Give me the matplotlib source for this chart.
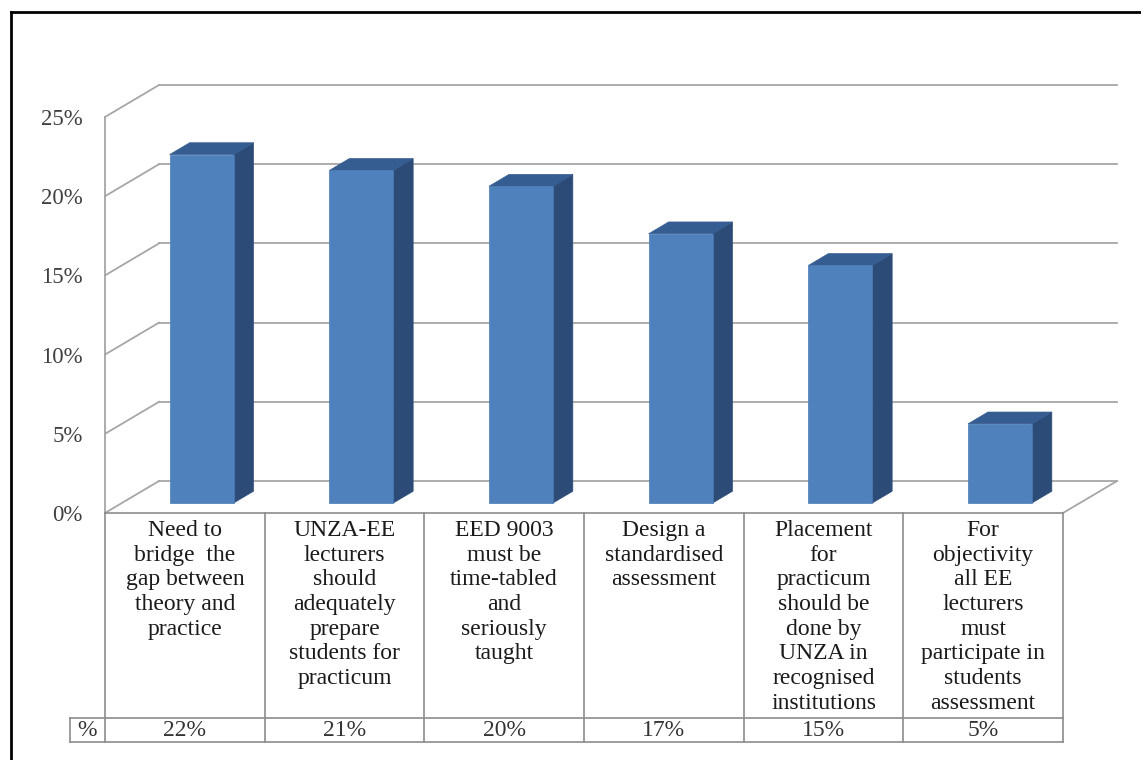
import matplotlib
matplotlib.use("Agg")
import matplotlib.pyplot as plt
from matplotlib.patches import Polygon
from matplotlib.lines import Line2D
from matplotlib.transforms import blended_transform_factory

# Datos del gráfico
categorias = [
    "Need to\nbridge  the\ngap between\ntheory and\npractice",
    "UNZA-EE\nlecturers\nshould\nadequately\nprepare\nstudents for\npracticum",
    "EED 9003\nmust be\ntime-tabled\nand\nseriously\ntaught",
    "Design a\nstandardised\nassessment",
    "Placement\nfor\npracticum\nshould be\ndone by\nUNZA in\nrecognised\ninstitutions",
    "For\nobjectivity\nall EE\nlecturers\nmust\nparticipate in\nstudents\nassessment",
]
valores = [22, 21, 20, 17, 15, 5]
etiquetas_valor = ["22%", "21%", "20%", "17%", "15%", "5%"]
yticks = [0, 5, 10, 15, 20, 25]
ytick_labels = ["0%", "5%", "10%", "15%", "20%", "25%"]

W, H = 1141, 760
fuente = "Liberation Serif"
gris = "#a6a6a6"
gris_tabla = "#8c8c8c"

fig = plt.figure(figsize=(W / 100, H / 100), dpi=100)
fig.patch.set_facecolor("white")

# ejes: plano frontal del gráfico 3D
ax = fig.add_axes([105 / W, (H - 513) / H, (1063 - 105) / W, (513 - 117) / H])
n = len(valores)
ax.set_xlim(0, n)
ax.set_ylim(0, 25)
for s in ax.spines.values():
    s.set_visible(False)
ax.set_xticks([])
ax.set_yticks(yticks)
ax.set_yticklabels(ytick_labels, fontsize=16.5, family=fuente, color="#404040")
ax.tick_params(axis="y", length=0, pad=16)
ax.patch.set_alpha(0)

# profundidad (en unidades de datos)
dx = 54 / ((1063 - 105) / n)
dy = 32 / ((513 - 117) / 25)

# pared izquierda, pared del fondo y suelo
ax.plot([0, 0], [0, 25], color=gris, lw=1.3, clip_on=False, zorder=1)
for v in yticks:
    ax.plot([0, dx], [v, v + dy], color=gris, lw=1.3, clip_on=False, zorder=1)
    ax.plot([dx, n + dx], [v + dy, v + dy], color=gris, lw=1.3, clip_on=False, zorder=1)
ax.plot([n, n + dx], [0, dy], color=gris, lw=1.3, clip_on=False, zorder=1)

# barras 3D
ancho = 0.4
p0, p1 = 0.31, 0.68
for i, v in enumerate(valores):
    x0 = i + 0.5 - ancho / 2 + p0 * dx
    y0 = p0 * dy
    ddx = (p1 - p0) * dx
    ddy = (p1 - p0) * dy
    frente = [(x0, y0), (x0 + ancho, y0), (x0 + ancho, y0 + v), (x0, y0 + v)]
    lado = [(x0 + ancho, y0), (x0 + ancho + ddx, y0 + ddy),
            (x0 + ancho + ddx, y0 + v + ddy), (x0 + ancho, y0 + v)]
    tapa = [(x0, y0 + v), (x0 + ancho, y0 + v),
            (x0 + ancho + ddx, y0 + v + ddy), (x0 + ddx, y0 + v + ddy)]
    ax.add_patch(Polygon(lado, closed=True, facecolor="#2c4c77", edgecolor="#2c4c77",
                         lw=0.5, clip_on=False, zorder=3))
    ax.add_patch(Polygon(tapa, closed=True, facecolor="#365d91", edgecolor="#365d91",
                         lw=0.5, clip_on=False, zorder=3))
    ax.add_patch(Polygon(frente, closed=True, facecolor="#4f81bd", edgecolor="#4a7ab5",
                         lw=0.5, clip_on=False, zorder=4))

# tabla de datos
tr = blended_transform_factory(ax.transData, fig.transFigure)
y_top = 1 - 513 / H
y_mid = 1 - 718 / H
y_bot = 1 - 742 / H
x_pct = -35 / ((1063 - 105) / n)

ax.plot([0, n], [y_top, y_top], color=gris_tabla, lw=1.2, transform=tr, clip_on=False)
ax.plot([x_pct, n], [y_mid, y_mid], color=gris_tabla, lw=1.2, transform=tr, clip_on=False)
ax.plot([x_pct, n], [y_bot, y_bot], color=gris_tabla, lw=1.2, transform=tr, clip_on=False)
ax.plot([x_pct, x_pct], [y_mid, y_bot], color=gris_tabla, lw=1.2, transform=tr, clip_on=False)
for k in range(n + 1):
    ax.plot([k, k], [y_top, y_bot], color=gris_tabla, lw=1.2, transform=tr, clip_on=False)

for i, cat in enumerate(categorias):
    ax.text(i + 0.5, 1 - 520 / H, cat, transform=tr, ha="center", va="top",
            fontsize=17, family=fuente, color="#1a1a1a", linespacing=1.23)
    ax.text(i + 0.5, (y_mid + y_bot) / 2, etiquetas_valor[i], transform=tr,
            ha="center", va="center", fontsize=17, family=fuente, color="#333333")
ax.text(x_pct / 2, (y_mid + y_bot) / 2, "%", transform=tr, ha="center", va="center",
        fontsize=17, family=fuente, color="#333333")

# marco negro del gráfico
fig.add_artist(Line2D([11 / W, 11 / W], [0, 1 - 12 / H], transform=fig.transFigure,
                      color="black", lw=2))
fig.add_artist(Line2D([11 / W, 1], [1 - 12 / H, 1 - 12 / H], transform=fig.transFigure,
                      color="black", lw=2))

fig.savefig("out.png", dpi=100)
